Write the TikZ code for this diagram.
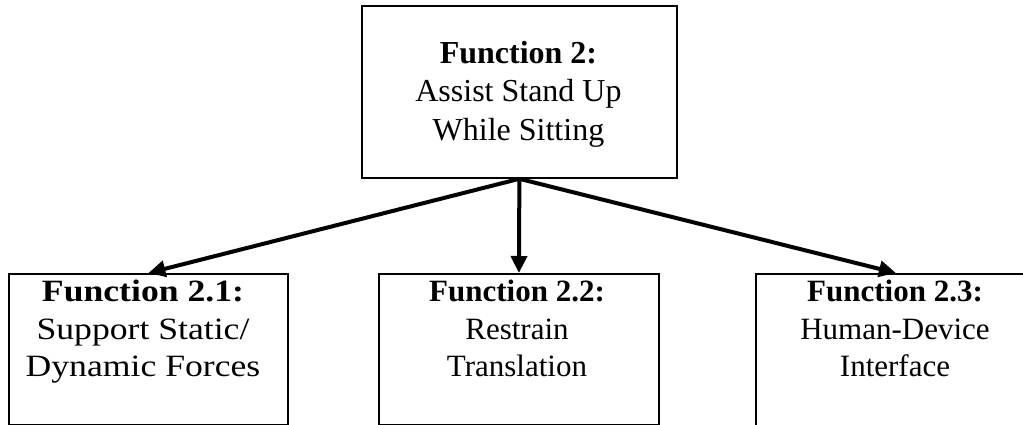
\documentclass[tikz,border=0pt]{standalone}
\usepackage{fontspec}
\setmainfont{Liberation Serif}
\newfontfamily\widefont[FakeStretch=1.15]{Liberation Serif}
\usetikzlibrary{arrows.meta}
\begin{document}
\begin{tikzpicture}[x=1pt,y=-1pt,
  box/.style={draw, line width=1.8pt, inner sep=0pt, anchor=north west},
  txt/.style={align=center, inner sep=0pt, anchor=north, font=\fontsize{31}{37.5}\selectfont},
  conn/.style={line width=4pt, -{Triangle[length=17pt,width=16pt]}}]
\useasboundingbox (0,0) rectangle (1023,425);
\clip (0,0) rectangle (1023,425);
\fill[white] (0,0) rectangle (1023,425);
% boxes
\node[box, minimum width=315pt, minimum height=172pt] (top) at (361,5) {};
\node[box, minimum width=279pt, minimum height=151pt] (b1) at (8,273) {};
\node[box, minimum width=280pt, minimum height=151pt] (b2) at (378,273) {};
\node[box, minimum width=280pt, minimum height=160pt] (b3) at (755,273) {};
% texts
\node[txt, font=\fontsize{32}{38.5}\selectfont] (ttop) at (518.5,41) {\textbf{Function 2:}\\Assist Stand Up\\While Sitting};
\node[txt, font=\widefont\fontsize{31}{37.5}\selectfont] (t1) at (143,280) {\textbf{Function 2.1:}\\Support Static/\\Dynamic Forces};
\node[txt] (t2) at (517,280) {\textbf{Function 2.2:}\\Restrain\\Translation};
\node[txt] (t3) at (895,280) {\textbf{Function 2.3:}\\Human-Device\\Interface};
% connectors
\draw[conn] (top.south) -- (b1.north);
\draw[conn] (top.south) -- (b2.north);
\draw[conn] (top.south) -- (b3.north);
\end{tikzpicture}
\end{document}
